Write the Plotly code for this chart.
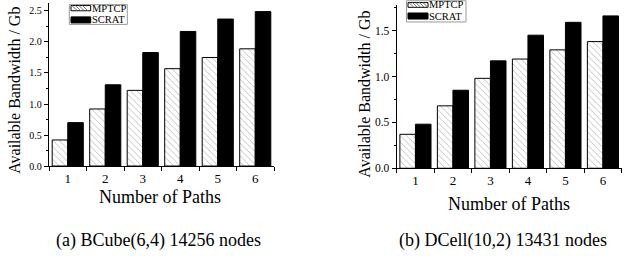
import plotly.graph_objects as go

# ---- data ----
paths = ["1", "2", "3", "4", "5", "6"]
bcube_mptcp = [0.42, 0.92, 1.22, 1.57, 1.75, 1.89]
bcube_scrat = [0.70, 1.31, 1.83, 2.17, 2.37, 2.49]
dcell_mptcp = [0.37, 0.68, 0.98, 1.19, 1.29, 1.38]
dcell_scrat = [0.48, 0.85, 1.17, 1.45, 1.59, 1.66]
series_names = ["MPTCP", "SCRAT"]
ytitle = "Available Bandwidth / Gb"
xtitle = "Number of Paths"
captions = ["(a) BCube(6,4) 14256 nodes", "(b) DCell(10,2) 13431 nodes"]

W, H = 632, 256
FONT = "Liberation Serif, Times New Roman, serif"


def px(x):
    return x / W


def py(y):
    return 1 - y / H


fig = go.Figure()

hatch = dict(shape="\\", fgcolor="#777777", bgcolor="white", size=4.5, solidity=0.2)

for mp, sc, xa, ya in [(bcube_mptcp, bcube_scrat, "x", "y"), (dcell_mptcp, dcell_scrat, "x2", "y2")]:
    fig.add_trace(go.Bar(x=paths, y=mp, name=series_names[0], xaxis=xa, yaxis=ya,
                         marker=dict(color="white", pattern=hatch,
                                     line=dict(color="black", width=1)),
                         showlegend=False))
    fig.add_trace(go.Bar(x=paths, y=sc, name=series_names[1], xaxis=xa, yaxis=ya,
                         marker=dict(color="black", line=dict(color="black", width=1)),
                         showlegend=False))

common_x = dict(type="category", tickson="boundaries", ticks="outside", ticklen=4,
                tickwidth=1, tickcolor="black", showline=True, linecolor="black",
                linewidth=1.3, showgrid=False, zeroline=False,
                tickfont=dict(family=FONT, size=13, color="black"))
common_y = dict(ticks="outside", ticklen=4, tickwidth=1, tickcolor="black",
                showline=True, linecolor="black", linewidth=1.3, showgrid=False,
                zeroline=False, dtick=0.5, tick0=0, tickformat=".1f",
                minor=dict(ticks="outside", ticklen=2, dtick=0.25, tickcolor="black",
                           showgrid=False))

fig.update_layout(
    width=W, height=H, autosize=False,
    margin=dict(l=0, r=0, t=0, b=0),
    paper_bgcolor="white", plot_bgcolor="white",
    barmode="group", bargap=0.17, bargroupgap=0,
    xaxis=dict(domain=[px(49), px(274)], anchor="y", **common_x),
    yaxis=dict(domain=[py(170), py(3)], anchor="x", range=[0, 2.63],
               tickfont=dict(family=FONT, size=10, color="black"), **common_y),
    xaxis2=dict(domain=[px(396.7), px(621.7)], anchor="y2", **common_x),
    yaxis2=dict(domain=[py(172.3), py(5)], anchor="x2", range=[0, 1.78],
                tickfont=dict(family=FONT, size=11.5, color="black"), **common_y),
)

ann = []
shapes = []


def text(t, x, y, size, angle=0, xanchor="center"):
    ann.append(dict(text=t, x=px(x), y=py(y), xref="paper", yref="paper",
                    xanchor=xanchor, yanchor="middle", textangle=angle,
                    showarrow=False, borderpad=0,
                    font=dict(family=FONT, size=size, color="black")))


# axis titles & captions
text(ytitle, 15, 93, 16, -90)
text(ytitle, 365, 97, 16, -90)
text(xtitle, 160, 202, 18)
text(xtitle, 509, 209, 18)
text(captions[0], 158, 246, 18)
text(captions[1], 503, 246, 18)


# manual legends
def legend(x0, y0, x1, y1, sw_x0, sw_x1, r1, r2):
    shapes.append(dict(type="rect", xref="paper", yref="paper", x0=px(x0), x1=px(x1),
                       y0=py(y1), y1=py(y0), line=dict(color="#999999", width=1),
                       fillcolor="white", layer="above"))
    t, b = r1
    shapes.append(dict(type="rect", xref="paper", yref="paper", x0=px(sw_x0), x1=px(sw_x1),
                       y0=py(b), y1=py(t), line=dict(color="black", width=1),
                       fillcolor="white", layer="above"))
    h = b - t
    xs = sw_x0 + 1
    while xs + h <= sw_x1:
        shapes.append(dict(type="line", xref="paper", yref="paper", x0=px(xs), x1=px(xs + h),
                           y0=py(t), y1=py(b), line=dict(color="#777777", width=1),
                           layer="above"))
        xs += 3.5
    t2, b2 = r2
    shapes.append(dict(type="rect", xref="paper", yref="paper", x0=px(sw_x0), x1=px(sw_x1),
                       y0=py(b2), y1=py(t2), line=dict(color="black", width=1),
                       fillcolor="black", layer="above"))
    text(series_names[0], sw_x1 + 0.5, (t + b) / 2, 10.5, xanchor="left")
    text(series_names[1], sw_x1 + 0.5, (t2 + b2) / 2, 10.5, xanchor="left")


legend(69.3, 4.7, 127.3, 25, 71, 90.7, (5.7, 11), (17.3, 23.5))
legend(406.5, 0.8, 466, 22.5, 408, 428, (2.7, 7.5), (13.3, 19.5))

fig.update_layout(annotations=ann, shapes=shapes)

fig.write_html("out.html")
